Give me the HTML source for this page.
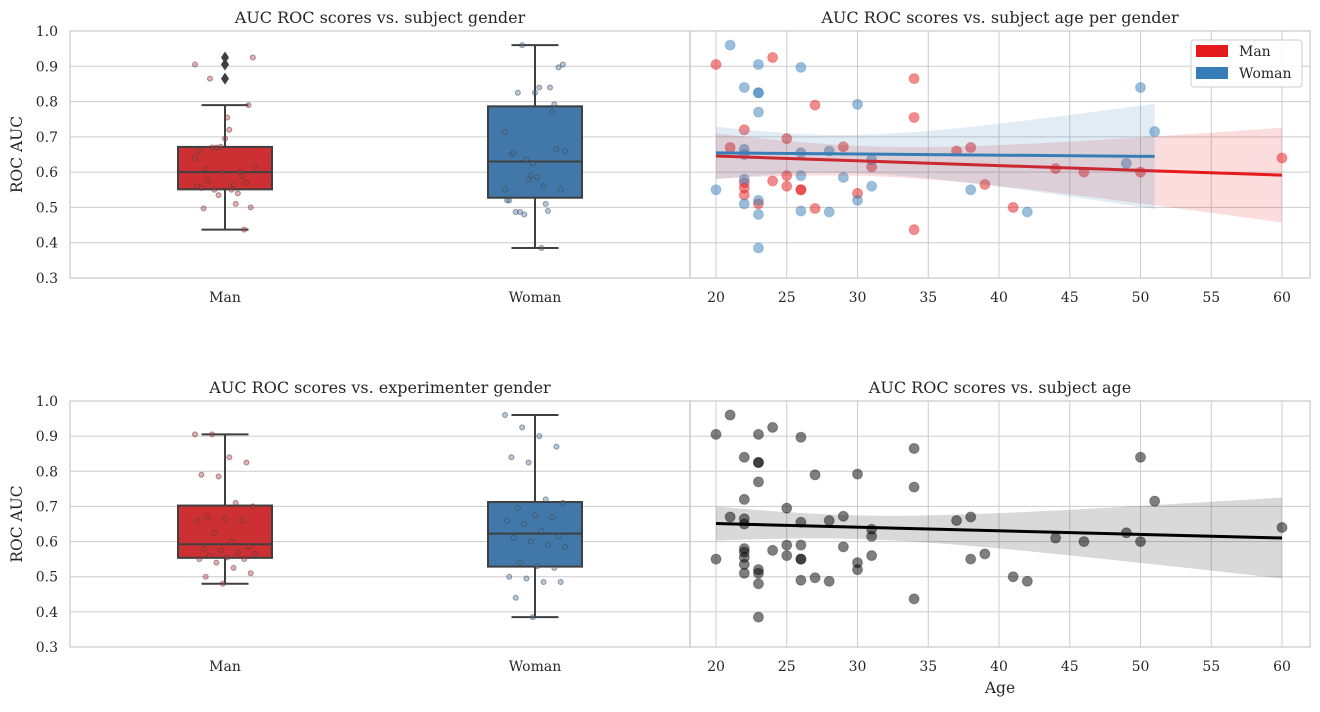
<!DOCTYPE html>
<html><head><meta charset="utf-8"><style>
body{margin:0;background:#fff}
svg text{font-family:"DejaVu Serif","Liberation Serif",serif;fill:#262626}
</style></head><body>
<svg id="c" width="1320" height="707" xmlns="http://www.w3.org/2000/svg"></svg>
<script>
const manAge=[20,21,22,22,22,22,23,24,24,25,25,25,26,26,27,27,29,30,31,34,34,34,37,38,39,41,44,46,50,60];
const manAuc=[0.905,0.67,0.72,0.57,0.555,0.535,0.51,0.925,0.575,0.695,0.59,0.56,0.55,0.55,0.79,0.497,0.672,0.54,0.615,0.865,0.755,0.437,0.66,0.67,0.565,0.50,0.61,0.60,0.60,0.64];
const womAge=[20,21,22,22,22,22,22,23,23,23,23,23,23,23,26,26,26,26,28,28,29,30,30,31,31,38,42,49,50,51];
const womAuc=[0.55,0.96,0.84,0.665,0.65,0.58,0.51,0.905,0.825,0.825,0.77,0.52,0.48,0.385,0.897,0.655,0.59,0.49,0.66,0.487,0.585,0.792,0.52,0.635,0.56,0.55,0.487,0.625,0.84,0.715];
const expMan=[0.905,0.905,0.84,0.825,0.79,0.785,0.71,0.70,0.67,0.665,0.66,0.66,0.625,0.60,0.585,0.58,0.575,0.57,0.565,0.56,0.555,0.55,0.55,0.54,0.525,0.51,0.50,0.48];
const expWom=[0.96,0.925,0.90,0.87,0.84,0.825,0.72,0.71,0.695,0.675,0.67,0.66,0.65,0.63,0.615,0.61,0.60,0.59,0.585,0.54,0.53,0.525,0.50,0.495,0.485,0.485,0.44,0.385];
const yTicks=[0.3,0.4,0.5,0.6,0.7,0.8,0.9,1.0];
const xTicks=[20,25,30,35,40,45,50,55,60];
const cats=["Man","Woman"];

const S=document.getElementById('c');const NS='http://www.w3.org/2000/svg';
function el(t,a,p){const e=document.createElementNS(NS,t);for(const k in a)e.setAttribute(k,a[k]);(p||S).appendChild(e);return e;}
const L={x0:70,x1:690},R={x0:690,x1:1310};
const panels=[{y0:31,y1:278},{y0:401,y1:647}];
function yS(p,v){return p.y1-(v-0.3)/0.7*(p.y1-p.y0);}
function xA(a){return 716+(a-20)*(1282-716)/40;}
function xC(i){return [225,535][i];}
function q(arr,p){const s=[...arr].sort((a,b)=>a-b);const h=(s.length-1)*p,l=Math.floor(h);return s[l]+(s[Math.min(l+1,s.length-1)]-s[l])*(h-l);}

function axes(p,side,title,name){
  const g=el('g',{});  
  yTicks.forEach(v=>{el('line',{x1:side.x0,x2:side.x1,y1:yS(p,v),y2:yS(p,v),stroke:'#cccccc','stroke-width':1},g);});
  if(side===R) xTicks.forEach(t=>{el('line',{x1:xA(t),x2:xA(t),y1:p.y0,y2:p.y1,stroke:'#cccccc','stroke-width':1},g);
    const tx=el('text',{x:xA(t),y:p.y1+24,'font-size':14,'text-anchor':'middle'},g);tx.textContent=t;});
  else { cats.forEach((c,i)=>{const tx=el('text',{x:xC(i),y:p.y1+24,'font-size':14,'text-anchor':'middle'},g);tx.textContent=c;});
    yTicks.forEach(v=>{const tx=el('text',{x:side.x0-12,y:yS(p,v)+5,'font-size':14,'text-anchor':'end'},g);tx.textContent=v.toFixed(1);});
    const yl=el('text',{x:22,y:(p.y0+p.y1)/2,'font-size':15.5,'text-anchor':'middle',transform:`rotate(-90 22 ${(p.y0+p.y1)/2})`},g);yl.textContent='ROC AUC';
    }
  el('rect',{x:side.x0,y:p.y0,width:side.x1-side.x0,height:p.y1-p.y0,fill:'none',stroke:'#cccccc','stroke-width':1.3},g);
  const tt=el('text',{x:(side.x0+side.x1)/2,y:p.y0-8,'font-size':16,'text-anchor':'middle'},g);tt.textContent=title;
  
}
function box(p,i,vals,fill,name){
  const g=el('g',{});  
  const q1=q(vals,.25),q3=q(vals,.75),md=q(vals,.5),iqr=q3-q1;
  const inl=vals.filter(v=>v>=q1-1.5*iqr&&v<=q3+1.5*iqr);
  const lo=Math.min(...inl),hi=Math.max(...inl);const cx=xC(i),w=94;
  el('line',{x1:cx,x2:cx,y1:yS(p,hi),y2:yS(p,q3),stroke:'#3f3f3f','stroke-width':2},g);
  el('line',{x1:cx,x2:cx,y1:yS(p,q1),y2:yS(p,lo),stroke:'#3f3f3f','stroke-width':2},g);
  [hi,lo].forEach(v=>el('line',{x1:cx-23.5,x2:cx+23.5,y1:yS(p,v),y2:yS(p,v),stroke:'#3f3f3f','stroke-width':2},g));
  el('rect',{x:cx-w/2,y:yS(p,q3),width:w,height:yS(p,q1)-yS(p,q3),fill:fill,stroke:'#3f3f3f','stroke-width':2},g);
  el('line',{x1:cx-w/2,x2:cx+w/2,y1:yS(p,md),y2:yS(p,md),stroke:'#3f3f3f','stroke-width':2},g);
  vals.filter(v=>v<lo||v>hi).forEach(v=>{const d=el('path',{d:`M${cx} ${yS(p,v)-6}L${cx+4} ${yS(p,v)}L${cx} ${yS(p,v)+6}L${cx-4} ${yS(p,v)}Z`,fill:'#3f3f3f'},g);
    });
  vals.forEach((v,k)=>{const j=((k*37)%29)/28*2-1;const c=el('circle',{cx:cx+j*30,cy:yS(p,v),r:2.5,fill:fill,'fill-opacity':0.4,stroke:'#3f3f3f','stroke-opacity':0.5,'stroke-width':1},g);
    });
}
function reg(p,xs,ys,col,band,name){
  const g=el('g',{});  
  const n=xs.length,mx=xs.reduce((a,b)=>a+b)/n,my=ys.reduce((a,b)=>a+b)/n;
  let sxx=0,sxy=0;xs.forEach((x,k)=>{sxx+=(x-mx)**2;sxy+=(x-mx)*(ys[k]-my);});
  const b=sxy/sxx,a=my-b*mx;let sse=0;xs.forEach((x,k)=>sse+=(ys[k]-a-b*x)**2);const s=Math.sqrt(sse/(n-2));
  const x0=Math.min(...xs),x1=Math.max(...xs);const up=[],dn=[];
  for(let k=0;k<=40;k++){const x=x0+(x1-x0)*k/40,yh=a+b*x,e=1.9*s*Math.sqrt(1/n+(x-mx)**2/sxx);up.push([xA(x),yS(p,yh+e)]);dn.push([xA(x),yS(p,yh-e)]);}
  const bp=el('path',{d:'M'+up.map(q=>q.join(' ')).join('L')+'L'+dn.reverse().map(q=>q.join(' ')).join('L')+'Z',fill:band,'fill-opacity':0.15},g);
  
  const ln=el('line',{x1:xA(x0),x2:xA(x1),y1:yS(p,a+b*x0),y2:yS(p,a+b*x1),stroke:col,'stroke-width':3},g);
  
}
function pts(p,xs,ys,col,name){
  xs.forEach((x,k)=>{const c=el('circle',{cx:xA(x),cy:yS(p,ys[k]),r:5,fill:col,'fill-opacity':0.5,stroke:col,'stroke-opacity':0.3});
    });
}
const P0=panels[0],P1=panels[1];
axes(P0,L,'AUC ROC scores vs. subject gender','subject-gender-panel');
axes(P0,R,'AUC ROC scores vs. subject age per gender','age-gender-panel');
axes(P1,L,'AUC ROC scores vs. experimenter gender','experimenter-gender-panel');
axes(P1,R,'AUC ROC scores vs. subject age','age-panel');
box(P0,0,manAuc,'#cc3033','box-man-subject');box(P0,1,womAuc,'#4278a9','box-woman-subject');
box(P1,0,expMan,'#cc3033','box-man-experimenter');box(P1,1,expWom,'#4278a9','box-woman-experimenter');
pts(P0,manAge,manAuc,'#e41a1c','man-point');pts(P0,womAge,womAuc,'#377eb8','woman-point');
reg(P0,manAge,manAuc,'#e41a1c','#e41a1c','man-regression');reg(P0,womAge,womAuc,'#377eb8','#377eb8','woman-regression');
const allA=manAge.concat(womAge),allU=manAuc.concat(womAuc);
pts(P1,allA,allU,'#000000','subject-point');
reg(P1,allA,allU,'#000000','#000000','all-regression');
const ax=el('text',{x:1000,y:693,'font-size':15.5,'text-anchor':'middle'});ax.textContent='Age';

const lg=el('g',{});
el('rect',{x:1191,y:40,width:111,height:47,rx:3,fill:'#fff','fill-opacity':0.85,stroke:'#cccccc'},lg);
[['Man','#e41a1c'],['Woman','#377eb8']].forEach((d,k)=>{const e=el('g',{},lg);
  el('rect',{x:1196,y:45+k*22,width:32,height:12,fill:d[1]},e);const t=el('text',{x:1239,y:56+k*22,'font-size':14},e);t.textContent=d[0];});
</script>
</body></html>
